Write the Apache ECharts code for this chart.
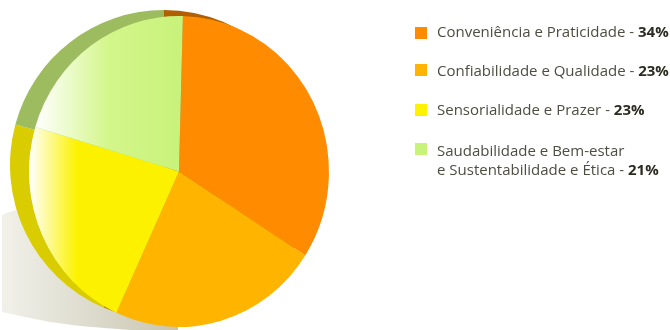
<!DOCTYPE html>
<html>
<head>
<meta charset="utf-8">
<style>html,body{margin:0;padding:0;background:#fff}#chart{width:670px;height:330px}</style>
<script src="https://cdn.jsdelivr.net/npm/echarts@6/dist/echarts.min.js"></script>
</head>
<body>
<div id="chart"></div>
<script>
const categories = ['Conveniência e Praticidade', 'Confiabilidade e Qualidade', 'Sensorialidade e Prazer', 'Saudabilidade e Bem-estar\ne Sustentabilidade e Ética'];
const shares = [34, 23, 23, 21];
const swatchColors = ['#FF8C00', '#FFB400', '#FFF200', '#C8F27A'];
const rimColors = ['#B06000', '#C08A00', '#D9CC00', '#9DBB5F'];
const swatchTops = [27, 64, 104, 143];
const labelTops = [25, 64, 103, 144];
const groundOutline = [[2, 215], [9, 212], [17, 210], [30, 208], [178, 250], [178, 330], [130, 330], [117, 329], [80, 326], [50, 322], [25, 317], [2, 312]];

const sideFade = (from, mid, stop, to) => ({
  type: 'linear', x: 0, y: 0, x2: 1, y2: 0,
  colorStops: [{ offset: 0, color: from }, { offset: stop, color: mid }, { offset: 1, color: to }]
});

const frontFills = [
  swatchColors[0],
  swatchColors[1],
  sideFade('#FFFFFF', '#FCF200', 0.32, '#FCF200'),
  sideFade('#FFFFFF', '#D3F68A', 0.5, '#C8F27A')
];

const total = shares.reduce((sum, v) => sum + v, 0);

// Draws one slightly elliptical pie: each slice's sweep comes from its share of the total.
const ellipticalPie = (fills, cx, cy, rx, ry, startDeg, z) => ({
  type: 'custom', coordinateSystem: 'none', silent: true, z,
  data: categories.map((name, i) => ({ name, value: shares[i] })),
  renderItem: (params, api) => {
    const before = shares.slice(0, params.dataIndex).reduce((sum, v) => sum + v, 0);
    const from = startDeg + before / total * 360;
    const sweep = api.value(0) / total * 360;
    return {
      type: 'sector',
      originX: cx, originY: cy, scaleY: ry / rx,
      shape: {
        cx, cy, r0: 0, r: rx, clockwise: true,
        startAngle: (from - 90) * Math.PI / 180,
        endAngle: (from + sweep - 90) * Math.PI / 180
      },
      style: { fill: fills[params.dataIndex] }
    };
  }
});

const legendGraphics = [];
categories.forEach((name, i) => {
  legendGraphics.push({
    type: 'rect', left: 415, top: swatchTops[i],
    shape: { width: 12, height: 12 },
    style: { fill: swatchColors[i] }
  });
  const lines = name.split('\n');
  const last = lines.pop();
  const prefix = lines.map(l => `{n|${l}}\n`).join('');
  legendGraphics.push({
    type: 'text', left: 437, top: labelTops[i],
    style: {
      text: `${prefix}{n|${last} - }{b|${shares[i]}%}`,
      rich: {
        n: { fontFamily: 'Open Sans', fontSize: 15, lineHeight: 19, fill: '#4E4D42' },
        b: { fontFamily: 'Open Sans', fontSize: 15, lineHeight: 19, fontWeight: 'bold', fill: '#2C2B20' }
      }
    }
  });
});

const chart = echarts.init(document.getElementById('chart'), null, { renderer: 'canvas' });
chart.setOption({
  animation: false,
  backgroundColor: '#FFFFFF',
  graphic: [
    {
      // Soft ground shadow falling to the lower left of the disc
      type: 'polygon', z: -1,
      shape: { points: groundOutline },
      style: {
        fill: {
          type: 'linear', x: 0, y: 0, x2: 1, y2: 0,
          colorStops: [{ offset: 0, color: '#F1F1EA' }, { offset: 1, color: '#C9C5B0' }]
        }
      }
    },
    ...legendGraphics
  ],
  series: [
    ellipticalPie(rimColors, 164, 165, 154, 155, 0, 2),
    ellipticalPie(frontFills, 179, 171.5, 150, 155.5, 1.5, 3)
  ]
});
</script>
</body>
</html>
